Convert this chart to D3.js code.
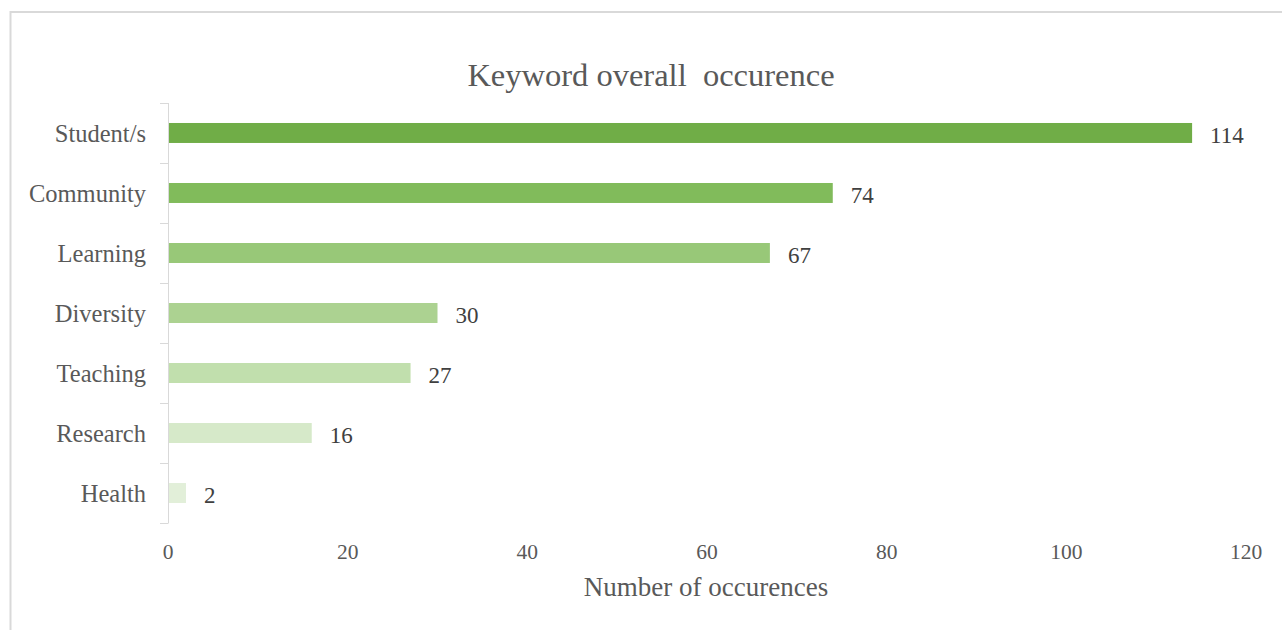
<!DOCTYPE html>
<html><head><meta charset="utf-8">
<script src="https://cdn.jsdelivr.net/npm/d3@7"></script>
<style>body{margin:0;background:#fff;} svg{display:block;}</style>
</head><body>
<svg id="chart" width="1282" height="630"></svg>
<script>
const categories = ["Student/s","Community","Learning","Diversity","Teaching","Research","Health"];
const values = [114,74,67,30,27,16,2];
const barColors = ["#70ad47","#81bb5b","#98c878","#acd291","#c1dfad","#d6e9c9","#e2efd9"];
const xTicks = [0,20,40,60,80,100,120];
const titleText = "Keyword overall  occurence";
const xTitle = "Number of occurences";

const svg = d3.select("#chart");
const font = "'Liberation Serif','Times New Roman',serif";

svg.append("rect").attr("x",10.5).attr("y",12).attr("width",1400).attr("height",800)
  .attr("fill","none").attr("stroke","#d9d9d9").attr("stroke-width",2);

const x = d3.scaleLinear().domain([0,120]).range([168,1246]);
const y = d3.scaleBand().domain(categories).range([103,523]).paddingInner(0.667).paddingOuter(0.333);
const yb = d3.scaleBand().domain(categories).range([103,523]);

svg.append("text").attr("x",651).attr("y",75).attr("dy","0.35em").attr("text-anchor","middle")
  .attr("font-family",font).attr("font-size",32.5).attr("fill","#595959")
  .style("white-space","pre").text(titleText);

// y axis line & ticks
svg.append("line").attr("x1",168.5).attr("x2",168.5).attr("y1",103).attr("y2",523)
  .attr("stroke","#d9d9d9").attr("stroke-width",1);
const bounds = categories.map(c=>yb(c)).concat([523]);
svg.selectAll("line.tk").data(bounds).enter().append("line")
  .attr("x1",160).attr("x2",168.5).attr("y1",d=>Math.round(d)+0.5).attr("y2",d=>Math.round(d)+0.5)
  .attr("stroke","#d9d9d9");

svg.selectAll("rect.bar").data(values).enter().append("rect")
  .attr("x",x(0)+1).attr("y",(d,i)=>y(categories[i]))
  .attr("width",d=>x(d)-x(0)-1).attr("height",y.bandwidth())
  .attr("fill",(d,i)=>barColors[i]);

svg.selectAll("text.cat").data(categories).enter().append("text")
  .attr("x",146).attr("y",d=>yb(d)+yb.bandwidth()/2).attr("dy","0.35em")
  .attr("text-anchor","end").attr("font-family",font).attr("font-size",24.5).attr("fill","#595959")
  .text(d=>d);

svg.selectAll("text.val").data(values).enter().append("text")
  .attr("x",d=>x(d)+18).attr("y",(d,i)=>yb(categories[i])+yb.bandwidth()/2+2).attr("dy","0.35em")
  .attr("font-family",font).attr("font-size",23).attr("fill","#404040")
  .text(d=>d);

svg.selectAll("text.xt").data(xTicks).enter().append("text")
  .attr("x",d=>x(d)).attr("y",551).attr("dy","0.35em").attr("text-anchor","middle")
  .attr("font-family",font).attr("font-size",21.5).attr("fill","#595959").text(d=>d);

svg.append("text").attr("x",706).attr("y",587).attr("dy","0.35em").attr("text-anchor","middle")
  .attr("font-family",font).attr("font-size",27).attr("fill","#595959").text(xTitle);
</script>
</body></html>
